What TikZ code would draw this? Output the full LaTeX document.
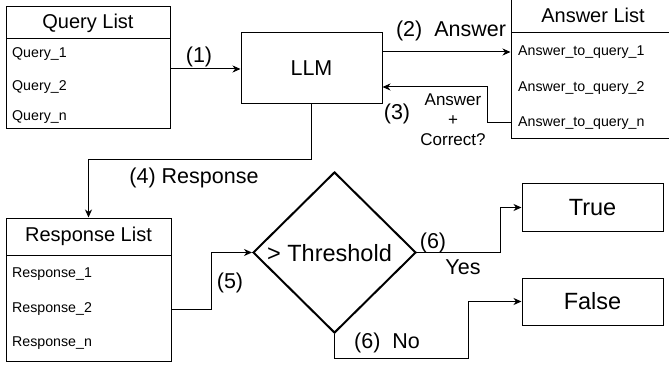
\documentclass[tikz,border=0pt]{standalone}
\usepackage{fontspec}
\setmainfont{Liberation Sans}
\usetikzlibrary{shapes.geometric,arrows.meta,calc}
\begin{document}
\begin{tikzpicture}[x=1pt,y=-1pt,
  box/.style={draw, line width=1pt, inner sep=0pt, minimum width=#1},
  head/.style={box=#1, font=\fontsize{20}{23}\selectfont},
  item/.style={anchor=west, inner sep=0pt, font=\fontsize{14.2}{16}\selectfont},
  lbl/.style={inner sep=0pt, font=\fontsize{21.5}{24}\selectfont},
  big/.style={font=\fontsize{23.5}{26}\selectfont},
  arr/.style={line width=1pt, -{Stealth[length=8pt,width=7pt,inset=2.5pt]}},
  ln/.style={line width=1pt}]
\useasboundingbox (0,0) rectangle (669,366);
\clip (0,0) rectangle (669,366);
% Query list
\node[head=164pt, minimum height=32pt] (qhead) at (88,23) {Query List};
\node[box=164pt, minimum height=90pt] (qbody) at (88,84) {};
\node[item] (q1) at (12,54) {Query\_1};
\node[item] (q2) at (12,87) {Query\_2};
\node[item] (qn) at (12,117) {Query\_n};
% LLM
\node[box=141pt, minimum height=71pt, font=\fontsize{21.5}{24}\selectfont] (llm) at (311.5,68.5) {LLM};
% Answer list
\node[head=164pt, minimum height=35pt] (ahead) at (593,15.5) {Answer List};
\node[box=164pt, minimum height=106pt] (abody) at (593,86) {};
\node[item] (a1) at (518,52) {Answer\_to\_query\_1};
\node[item] (a2) at (518,88) {Answer\_to\_query\_2};
\node[item] (an) at (518,123) {Answer\_to\_query\_n};
% Response list
\node[head=165pt, minimum height=37pt] (rhead) at (88.5,236.5) {Response List};
\node[box=165pt, minimum height=106pt] (rbody) at (88.5,308) {};
\node[item] (r1) at (12,274) {Response\_1};
\node[item] (r2) at (12,309) {Response\_2};
\node[item] (rn) at (12,343) {Response\_n};
% Diamond
\node[diamond, draw, line width=2pt, inner sep=0pt, aspect=1, minimum width=163pt, minimum height=161pt] (dia) at (334.5,252.5) {};
\node[big, inner sep=0pt] (diatext) at (329.5,253) {> Threshold};
% True / False
\node[box=141pt, minimum height=47pt, big] (true) at (592.5,207.5) {True};
\node[box=141pt, minimum height=47pt, big] (false) at (592.5,301.5) {False};
% connectors
\draw[arr] (qbody.east |- 0,69) -- (llm.west |- 0,69);
\draw[arr] (llm.east |- a1) -- (abody.west |- a1);
\draw[arr] (abody.west |- an) -| ($(llm.east)+(105,18.5)$) -- ($(llm.east)+(0,18.5)$);
\draw[arr] (llm.south) -- ++(0,55) -| (rhead.north);
\draw[arr] (rbody.east |- r2) -- ++(40,0) |- (dia.west);
\draw[arr] (dia.east) -- ++(83,0) |- (true.west);
\draw[arr] (dia.south) -- ++(0,24) -| ($(false.west)+(-53,0)$) -- (false.west);
% labels
\node[lbl] (l1) at (199,57) {(1)};
\node[lbl] (l2) at (451,31) {(2)~~Answer};
\node[lbl] (l3) at (397,114) {(3)};
\node[inner sep=0pt, align=center, font=\fontsize{17}{20}\selectfont] (l3b) at (453,120) {Answer\\+\\Correct?};
\node[lbl] (l4) at (194,178) {(4) Response};
\node[lbl] (l5) at (230,283) {(5)};
\node[lbl] (l6a) at (433,243) {(6)};
\node[lbl] (lyes) at (463,267) {Yes};
\node[lbl] (l6b) at (387,343) {(6)~~No};
\end{tikzpicture}
\end{document}
